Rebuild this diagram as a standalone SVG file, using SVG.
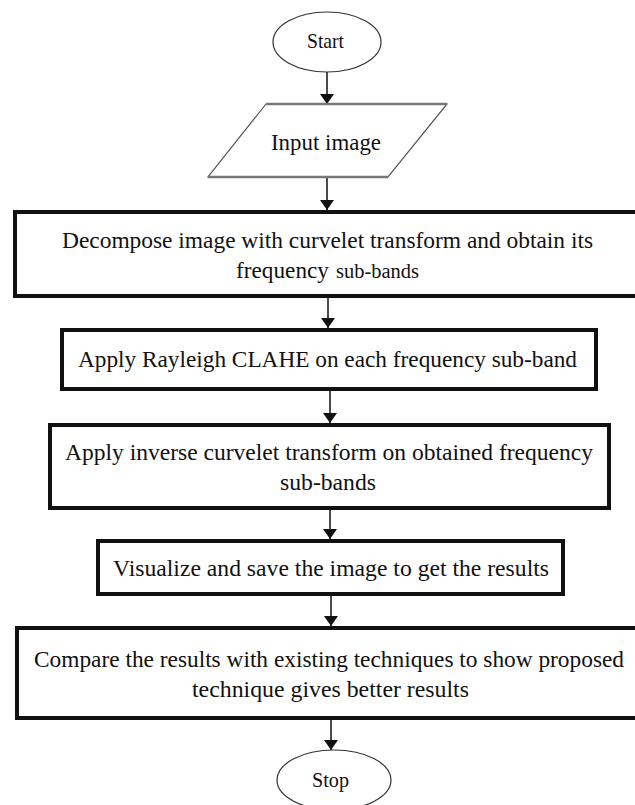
<svg xmlns="http://www.w3.org/2000/svg" width="635" height="805" viewBox="0 0 635 805">
<defs>
<marker id="ah" viewBox="0 0 10 14" markerWidth="10" markerHeight="14" refX="10" refY="7" orient="auto" markerUnits="userSpaceOnUse">
<path d="M0,0 L10,7 L0,14 Z" fill="#111"/>
</marker>
</defs>
<style>
.box{fill:#fff;stroke:#111;stroke-width:4}
.term{fill:#fff;stroke:#333;stroke-width:1.2}
text{font-family:'Liberation Serif',serif;fill:#111}
.t{font-size:24px}
.s{font-size:22px}
.c{stroke:#111;stroke-width:1.5;fill:none;marker-end:url(#ah)}
</style>
<rect width="635" height="805" fill="#fff"/>
<g id="connectors">
<line class="c" x1="327" y1="72" x2="327" y2="104"/>
<line class="c" x1="327" y1="178" x2="327" y2="210"/>
<line class="c" x1="328" y1="297" x2="328" y2="328"/>
<line class="c" x1="330" y1="391" x2="330" y2="423"/>
<line class="c" x1="330" y1="510" x2="330" y2="539"/>
<line class="c" x1="331" y1="596" x2="331" y2="626"/>
<line class="c" x1="331" y1="720" x2="331" y2="750"/>
</g>
<g id="start">
<ellipse class="term" cx="327" cy="42" rx="54" ry="30"/>
<text class="s" font-family="Liberation Serif" x="307" y="48" textLength="37" lengthAdjust="spacingAndGlyphs">Start</text>
</g>
<g id="input">
<polygon points="266,104 447,104 388,177 208,177" fill="#fff" stroke="#555" stroke-width="1.2"/>
<line x1="266" y1="104" x2="447" y2="104" stroke="#777" stroke-width="2.5"/>
<line x1="208" y1="177" x2="388" y2="177" stroke="#777" stroke-width="2.5"/>
<text class="t" font-family="Liberation Serif" x="271" y="150" textLength="110" lengthAdjust="spacingAndGlyphs">Input image</text>
</g>
<g id="decompose">
<rect class="box" x="15" y="212" width="640" height="84"/>
<text class="t" font-family="Liberation Serif" x="62" y="248" textLength="531" lengthAdjust="spacingAndGlyphs">Decompose image with curvelet transform and obtain its</text>
<text class="t" font-family="Liberation Serif" x="236" y="278" textLength="93" lengthAdjust="spacingAndGlyphs">frequency</text>
<text class="t" font-family="Liberation Serif" x="336" y="278" style="font-size:20px" textLength="83" lengthAdjust="spacingAndGlyphs">sub-bands</text>
</g>
<g id="clahe">
<rect class="box" x="62" y="330" width="534" height="59"/>
<text class="t" font-family="Liberation Serif" x="78" y="367" textLength="499" lengthAdjust="spacingAndGlyphs">Apply Rayleigh CLAHE on each frequency sub-band</text>
</g>
<g id="inverse">
<rect class="box" x="50" y="425" width="559" height="83"/>
<text class="t" font-family="Liberation Serif" x="65" y="460" textLength="528" lengthAdjust="spacingAndGlyphs">Apply inverse curvelet transform on obtained frequency</text>
<text class="t" font-family="Liberation Serif" x="280" y="490" textLength="96" lengthAdjust="spacingAndGlyphs">sub-bands</text>
</g>
<g id="visualize">
<rect class="box" x="98" y="541" width="465" height="53"/>
<text class="t" font-family="Liberation Serif" x="113" y="576" textLength="436" lengthAdjust="spacingAndGlyphs">Visualize and save the image to get the results</text>
</g>
<g id="compare">
<rect class="box" x="17" y="628" width="630" height="90"/>
<text class="t" font-family="Liberation Serif" x="34" y="667" textLength="590" lengthAdjust="spacingAndGlyphs">Compare the results with existing techniques to show proposed</text>
<text class="t" font-family="Liberation Serif" x="192" y="697" textLength="277" lengthAdjust="spacingAndGlyphs">technique gives better results</text>
</g>
<g id="stop">
<ellipse class="term" cx="334" cy="780" rx="57" ry="30"/>
<text class="s" font-family="Liberation Serif" x="312" y="787" textLength="37" lengthAdjust="spacingAndGlyphs">Stop</text>
</g>
</svg>
